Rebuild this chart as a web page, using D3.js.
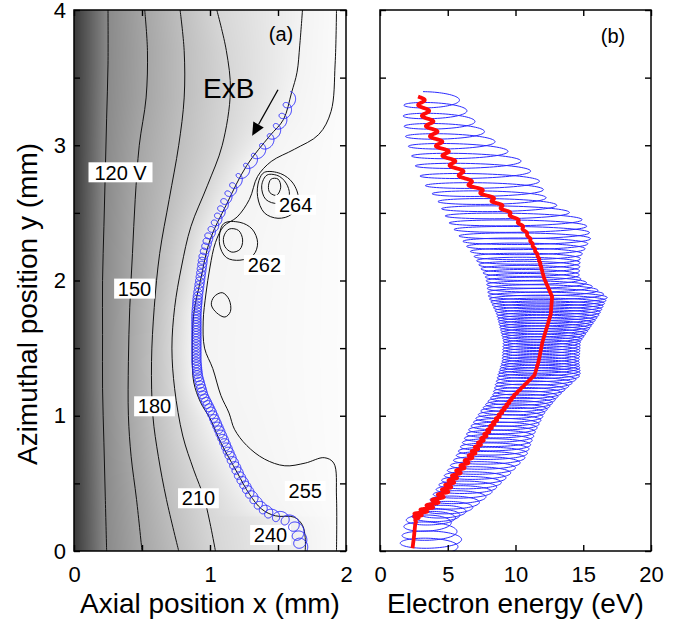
<!DOCTYPE html>
<html>
<head>
<meta charset="utf-8">
<script src="https://cdn.jsdelivr.net/npm/d3@7"></script>
<style>
body{margin:0;background:#fff}
svg{display:block;font-family:"Liberation Sans",Arial,sans-serif}
</style>
</head>
<body>
<div class="box"></div>
<script>
// ---- contour lines of panel (a), [x mm, y mm]
const c120=[[0.25,4],[0.25,3.6],[0.24,3.2],[0.23,2.8],[0.22,2.4],[0.21,2.0],[0.21,1.6],[0.21,1.2],[0.22,0.8],[0.23,0.4],[0.24,0]];
const c150=[[0.52,4],[0.54,3.7],[0.53,3.35],[0.48,3.0],[0.45,2.6],[0.43,2.2],[0.41,1.8],[0.40,1.4],[0.40,1.0],[0.42,0.7],[0.46,0.38],[0.50,0]];
const c180=[[0.78,4],[0.81,3.7],[0.81,3.35],[0.77,3.0],[0.70,2.6],[0.63,2.2],[0.59,1.8],[0.57,1.4],[0.58,1.0],[0.62,0.7],[0.68,0.38],[0.77,0]];
const c210=[[1.05,4],[1.12,3.7],[1.15,3.4],[1.09,3.0],[0.98,2.7],[0.86,2.4],[0.79,2.1],[0.74,1.8],[0.72,1.5],[0.74,1.2],[0.80,0.85],[0.88,0.6],[0.96,0.38],[1.04,0]];
const c240=[[1.68,4],[1.66,3.74],[1.64,3.54],[1.60,3.39],[1.54,3.19],[1.44,3.07],[1.27,2.85],[1.12,2.56],[1.0,2.3],[0.93,2.0],[0.88,1.75],[0.87,1.45],[0.88,1.25],[0.93,1.1],[1.0,0.98],[1.08,0.8],[1.2,0.58],[1.29,0.42],[1.38,0.31],[1.48,0.26],[1.62,0.25],[1.68,0.19],[1.70,0.1],[1.70,0]];
const c255=[[1.93,4],[1.92,3.6],[1.89,3.25],[1.80,3.08],[1.62,2.97],[1.45,2.88],[1.35,2.77],[1.29,2.6],[1.2,2.47],[1.1,2.4],[1.04,2.28],[1.0,2.1],[0.97,1.9],[0.95,1.7],[0.96,1.5],[1.02,1.35],[1.08,1.15],[1.14,1.02],[1.18,0.9],[1.27,0.78],[1.40,0.68],[1.55,0.63],[1.70,0.65],[1.84,0.69],[1.91,0.65],[1.93,0.4],[1.93,0]];
// closed islands
const loopSmall=[[1.03,1.88],[1.09,1.91],[1.14,1.86],[1.15,1.77],[1.11,1.73],[1.05,1.76],[1.01,1.82]];
const loop262a=[[1.10,2.42],[1.22,2.43],[1.31,2.38],[1.35,2.28],[1.32,2.19],[1.22,2.15],[1.12,2.17],[1.07,2.27]];
const loop262b=[[1.14,2.38],[1.21,2.37],[1.24,2.30],[1.22,2.23],[1.16,2.21],[1.11,2.25],[1.10,2.32]];
const loop264a=[[1.40,2.80],[1.52,2.79],[1.61,2.72],[1.65,2.60],[1.60,2.49],[1.50,2.46],[1.40,2.50],[1.35,2.62],[1.36,2.74]];
const loop264b=[[1.42,2.78],[1.51,2.77],[1.57,2.70],[1.58,2.62],[1.50,2.57],[1.41,2.60],[1.38,2.70]];
const loop264c=[[1.45,2.75],[1.50,2.75],[1.52,2.69],[1.49,2.63],[1.44,2.65],[1.43,2.70]];

// potential (V) at x=0, on each main contour, and right edge
const potLevels=[90,120,150,180,210,240,252];
const grayLevels=[58,138,166,190,214,243,252];

// labels on the contour map: text, x, y
const contourLabels=[['120 V',0.342,2.80],['150',0.445,1.94],['180',0.592,1.07],['210',0.915,0.39],
  ['240',1.445,0.118],['255',1.70,0.444],['262',1.40,2.115],['264',1.63,2.56]];
const arrowExB=[[1.50,3.41],[1.31,3.07]];

// ---- electron orbit, knots along the guiding centre (number of gyrations done)
const gcCyc =[0,   2,   4,   6.5, 8.5, 10.5,13.5,16,  20,  25,  30,  36,  46,  53,  58,  64,  69,  74,  80,  84,  87.5,90,  92,  93.5,94.5,96,  97.5];
const gcY   =[3.36,3.20,3.05,2.87,2.72,2.60,2.44,2.32,2.17,2.02,1.88,1.75,1.55,1.40,1.30,1.15,1.03,0.89,0.70,0.55,0.43,0.33,0.27,0.24,0.20,0.10,0.02];
const gcX   =[1.60,1.54,1.45,1.30,1.19,1.12,1.05,0.99,0.95,0.93,0.91,0.90,0.90,0.90,0.91,0.95,1.01,1.07,1.15,1.22,1.29,1.37,1.45,1.55,1.62,1.66,1.67];
const rho   =[.038,.038,.037,.036,.035,.034,.033,.033,.033,.033,.034,.034,.034,.034,.034,.035,.035,.036,.037,.037,.037,.038,.040,.045,.050,.050,.050];
const eLo   =[1.8, 1.7, 1.9, 2.5, 3.2, 4.2, 5.0, 5.9, 7.0, 7.8, 8.0, 8.6, 9.1, 9.0, 8.7, 8.3, 7.4, 6.5, 5.6, 4.7, 4.0, 3.4, 2.8, 2.0, 1.8, 1.6, 1.4];
const eHi   =[5.7, 6.8, 8.2, 10.6,11.9,12.3,15.1,15.6,14.8,14.7,16.8,16.2,14.8,14.7,14.8,13.2,12.2,11.5,10.8,9.4, 8.2, 7.0, 6.0, 5.5, 5.2, 6.1, 5.7];
const eMid  =[2.9, 3.5, 4.1, 5.3, 6.6, 8.3, 10.2,11.0,11.7,12.1,12.7,12.6,12.0,11.7,11.4,9.9, 9.0, 8.0, 6.7, 5.5, 4.7, 3.7, 2.8, 2.7, 2.6, 2.5, 2.4];
const eWig  =[.30, .35, .35, .35, .30, .25, .12, .05, .03, 0,   0,   0,   0,   0,   0,   .04, .08, .12, .20, .25, .30, .35, .35, .10, 0,   0,   0];

const xTicksA=[0,0.5,1,1.5,2], xTicksB=[0,5,10,15,20], yTicks=[0,0.5,1,1.5,2,2.5,3,3.5,4];

const W=688,H=624;
const svg=d3.select('.box').append('svg').attr('width',W).attr('height',H).style('background','white');
const pa={left:74,right:346,top:10,bottom:551};
const pb={left:380,right:651,top:10,bottom:551};
const xA=d3.scaleLinear().domain([0,2]).range([pa.left,pa.right]);
const yS=d3.scaleLinear().domain([0,4]).range([pa.bottom,pa.top]);
const xB=d3.scaleLinear().domain([0,20]).range([pb.left,pb.right]);

const defs=svg.append('defs');
defs.append('clipPath').attr('id','clipA').append('rect').attr('x',pa.left).attr('y',pa.top).attr('width',pa.right-pa.left).attr('height',pa.bottom-pa.top);
defs.append('clipPath').attr('id','clipB').append('rect').attr('x',pb.left).attr('y',pb.top).attr('width',pb.right-pb.left).attr('height',pb.bottom-pb.top);

// gray shading from the contour positions, row by row
const colAt=c=>d3.scaleLinear().domain(c.map(p=>p[1])).range(c.map(p=>p[0])).clamp(true);
const mains=[c120,c150,c180,c210,c240].map(colAt);
const gw=pa.right-pa.left, gh=pa.bottom-pa.top;
const cv=document.createElement('canvas'); cv.width=gw; cv.height=gh;
const ctx=cv.getContext('2d');
const img=ctx.createImageData(gw,gh);
const gr=d3.scaleLinear().domain(potLevels).range(grayLevels).clamp(true);
for(let j=0;j<gh;j++){
  const yy=yS.invert(pa.top+j+0.5);
  const xs=[0,...mains.map(f=>f(yy)),2];
  for(let k=1;k<xs.length;k++) if(xs[k]<=xs[k-1]) xs[k]=xs[k-1]+1e-4;
  const pot=d3.scaleLinear().domain(xs).range(potLevels).clamp(true);
  for(let i=0;i<gw;i++){
    const v=Math.round(gr(pot(xA.invert(pa.left+i+0.5))));
    const o=(j*gw+i)*4;
    img.data[o]=v;img.data[o+1]=v;img.data[o+2]=v;img.data[o+3]=255;
  }
}
ctx.putImageData(img,0,0);
svg.append('image').attr('x',pa.left).attr('y',pa.top).attr('width',gw).attr('height',gh)
  .attr('preserveAspectRatio','none').attr('href',cv.toDataURL());

const gA=svg.append('g').attr('clip-path','url(#clipA)');
const line=d3.line().x(d=>xA(d[0])).y(d=>yS(d[1])).curve(d3.curveCatmullRom);
const closed=d3.line().x(d=>xA(d[0])).y(d=>yS(d[1])).curve(d3.curveCatmullRomClosed);
gA.selectAll('path.open').data([c120,c150,c180,c210,c240,c255]).enter().append('path')
  .attr('d',line).attr('fill','none').attr('stroke','#111').attr('stroke-width',1);
gA.selectAll('path.closed').data([loopSmall,loop262a,loop262b,loop264a,loop264b,loop264c]).enter().append('path')
  .attr('d',closed).attr('fill','none').attr('stroke','#111').attr('stroke-width',1);

// contour labels with white boxes
const lab=gA.selectAll('g.lab').data(contourLabels).enter().append('g')
  .attr('transform',d=>`translate(${xA(d[1])},${yS(d[2])})`);
lab.append('rect').attr('x',d=>-d[0].length*5.8-3).attr('y',-10).attr('width',d=>d[0].length*11.6+6).attr('height',20).attr('fill','white');
lab.append('text').attr('text-anchor','middle').attr('dy','0.36em').attr('font-size',20).attr('fill','#000').text(d=>d[0]);

// orbit
const sc=v=>d3.scaleLinear().domain(gcCyc).range(v);
const fX=sc(gcX),fY=sc(gcY),fR=sc(rho),fLo=sc(eLo),fHi=sc(eHi),fMid=sc(eMid),fW=sc(eWig);
const perCyc=72, nC=d3.max(gcCyc);
const orbit=d3.range(Math.round(nC*perCyc)+1).map(i=>{
  const c=i/perCyc, th=2*Math.PI*c-0.3, s=Math.sin(th), co=Math.cos(th);
  const lo=fLo(c),hi=fHi(c);
  return {x:fX(c)+fR(c)*s, y:fY(c)+fR(c)*co, e:(lo+hi)/2+(hi-lo)/2*s, ym:fY(c), em:fMid(c)+fW(c)*s};
});
gA.append('path').datum(orbit).attr('fill','none').attr('stroke','#2a2aff').attr('stroke-width',1)
  .attr('d',d3.line().x(d=>xA(d.x)).y(d=>yS(d.y)));

// ExB arrow
const a0=[xA(arrowExB[0][0]),yS(arrowExB[0][1])], a1=[xA(arrowExB[1][0]),yS(arrowExB[1][1])];
const ang=Math.atan2(a1[1]-a0[1],a1[0]-a0[0]), hl=13, hw=6;
const base=[a1[0]-hl*Math.cos(ang),a1[1]-hl*Math.sin(ang)];
svg.append('line').attr('x1',a0[0]).attr('y1',a0[1]).attr('x2',base[0]).attr('y2',base[1]).attr('stroke','#000').attr('stroke-width',1.3);
svg.append('path').attr('fill','#000').attr('d',`M${a1[0]},${a1[1]}L${base[0]-hw*Math.sin(ang)},${base[1]+hw*Math.cos(ang)}L${base[0]+hw*Math.sin(ang)},${base[1]-hw*Math.cos(ang)}Z`);
svg.append('text').attr('x',203).attr('y',98).attr('font-size',28).text('ExB');
svg.append('text').attr('x',281).attr('y',41).attr('text-anchor','middle').attr('font-size',20).text('(a)');

// panel (b)
const gB=svg.append('g').attr('clip-path','url(#clipB)');
gB.append('path').datum(orbit).attr('fill','none').attr('stroke','#2a2aff').attr('stroke-width',1)
  .attr('d',d3.line().x(d=>xB(d.e)).y(d=>yS(d.y)));
gB.append('path').datum(orbit).attr('fill','none').attr('stroke','#ff0a0a').attr('stroke-width',3.8).attr('stroke-linejoin','round')
  .attr('d',d3.line().x(d=>xB(d.em)).y(d=>yS(d.ym)));
svg.append('text').attr('x',613).attr('y',43).attr('text-anchor','middle').attr('font-size',20).text('(b)');

// frames, ticks and labels
const noDomain=g=>g.select('.domain').remove();
const style=g=>{g.selectAll('line').attr('stroke','#000').attr('stroke-width',1.4);
  g.selectAll('text').attr('font-size',22).attr('font-family','"Liberation Sans",Arial,sans-serif').attr('fill','#000');};
const intOnly=d=>Number.isInteger(d)?String(d):'';
function frame(p,xs,xt){
  svg.append('g').attr('transform',`translate(0,${p.bottom})`)
    .call(d3.axisBottom(xs).tickValues(xt).tickSize(-6).tickPadding(15).tickFormat(intOnly)).call(noDomain).call(style);
  svg.append('g').attr('transform',`translate(0,${p.top})`)
    .call(d3.axisTop(xs).tickValues(xt).tickSize(-6).tickFormat('')).call(noDomain).call(style);
  svg.append('g').attr('transform',`translate(${p.right},0)`)
    .call(d3.axisRight(yS).tickValues(yTicks).tickSize(-6).tickFormat('')).call(noDomain).call(style);
  svg.append('g').attr('transform',`translate(${p.left},0)`)
    .call(d3.axisLeft(yS).tickValues(yTicks).tickSize(-6).tickPadding(8).tickFormat(p===pa?intOnly:'')).call(noDomain).call(style);
  svg.append('rect').attr('x',p.left).attr('y',p.top).attr('width',p.right-p.left).attr('height',p.bottom-p.top)
    .attr('fill','none').attr('stroke','#000').attr('stroke-width',1.5);
}
frame(pa,xA,xTicksA);
frame(pb,xB,xTicksB);

svg.append('text').attr('x',(pa.left+pa.right)/2).attr('y',613).attr('text-anchor','middle').attr('font-size',28).text('Axial position x (mm)');
svg.append('text').attr('x',(pb.left+pb.right)/2).attr('y',613).attr('text-anchor','middle').attr('font-size',28).text('Electron energy (eV)');
svg.append('text').attr('transform','translate(37,304) rotate(-90)').attr('text-anchor','middle').attr('font-size',28).text('Azimuthal position y (mm)');
</script>
</body>
</html>
